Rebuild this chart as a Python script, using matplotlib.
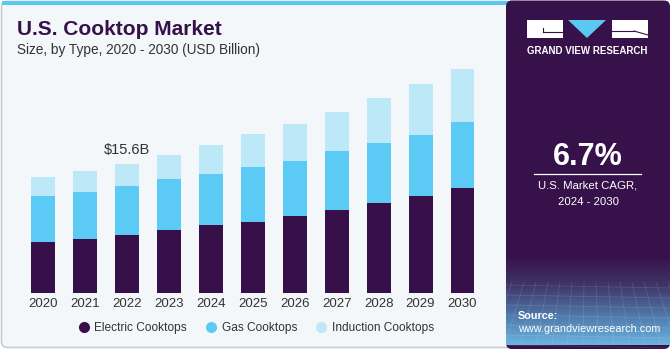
import numpy as np
import matplotlib
matplotlib.use("Agg")
import matplotlib.pyplot as plt
from matplotlib.patches import FancyBboxPatch, Rectangle, Polygon
from matplotlib.lines import Line2D
from matplotlib.colors import LinearSegmentedColormap

plt.rcParams['font.family'] = ['Liberation Sans', 'DejaVu Sans']

years = ['2020', '2021', '2022', '2023', '2024', '2025', '2026', '2027', '2028', '2029', '2030']
electric = [6.22, 6.54, 7.06, 7.62, 8.18, 8.62, 9.26, 9.99, 10.83, 11.75, 12.71]
gas = [5.53, 5.69, 5.85, 6.10, 6.22, 6.58, 6.70, 7.18, 7.30, 7.34, 7.90]
induction = [2.29, 2.45, 2.69, 2.93, 3.49, 3.93, 4.37, 4.65, 5.37, 6.10, 6.42]
series_names = ['Electric Cooktops', 'Gas Cooktops', 'Induction Cooktops']
colors = ['#37104a', '#5bcbf5', '#bde8f8']
label_year = '2022'
label_text = '$15.6B'

W, H = 671, 350
fig = plt.figure(figsize=(W / 100, H / 100), dpi=100)
fig.patch.set_facecolor('white')

# background layer in pixel coords
bg = fig.add_axes([0, 0, 1, 1], zorder=0)
bg.set_xlim(0, W)
bg.set_ylim(H, 0)
bg.axis('off')

# left panel
bg.add_patch(FancyBboxPatch((1.5, 1.5), 520, H - 4, boxstyle='round,pad=0,rounding_size=6',
                            fc='#f3f7fa', ec='#c9cdd0', lw=1.2))
bg.add_patch(Rectangle((1.5, 0.5), 518, 4.5, fc='#5bc8f2', ec='none'))

# right panel
bg.add_patch(FancyBboxPatch((506, 0.5), 164, H - 1.5, boxstyle='round,pad=0,rounding_size=6',
                            fc='#37114a', ec='none'))
grad = np.linspace(0, 1, 100)[:, None]
cmap = LinearSegmentedColormap.from_list('g', ['#37114a', '#3f3567', '#4f77a8', '#6bb3de'])
bg.imshow(grad, extent=(506, 670, 345, 255), cmap=cmap, aspect='auto', zorder=1)
for yy in np.linspace(285, 345, 7):
    bg.plot([506, 670], [yy, yy + 3], color='white', alpha=0.12, lw=0.6, zorder=2)
for xx in np.linspace(500, 680, 16):
    bg.plot([xx, xx + (xx - 588) * 0.3], [282, 345], color='white', alpha=0.12, lw=0.6, zorder=2)

# logo
bg.add_patch(Rectangle((527, 20), 36, 18, fc='white', ec='none', zorder=3))
bg.plot([543, 563], [32, 32], color='#37114a', lw=0.8, zorder=4)
bg.plot([543, 543], [28, 32], color='#37114a', lw=0.8, zorder=4)
bg.add_patch(Polygon([(568, 20), (606, 20), (587, 38)], closed=True, fc='#5bc8f2', ec='none', zorder=3))
bg.add_patch(Rectangle((612, 20), 36, 18, fc='white', ec='none', zorder=3))
bg.plot([634, 648], [31, 35], color='#37114a', lw=0.8, zorder=4)
bg.plot([612, 634], [31, 31], color='#37114a', lw=0.8, zorder=4)
bg.text(587.5, 51, 'GRAND VIEW RESEARCH', color='white', fontsize=7, fontweight='bold',
        ha='center', va='center', zorder=4)

bg.text(588, 157, '6.7%', color='white', fontsize=22, fontweight='bold', ha='center', va='center', zorder=4)
bg.plot([534, 641], [173.5, 173.5], color='white', lw=0.9, zorder=4)
bg.text(588, 186, 'U.S. Market CAGR,', color='white', fontsize=8.2, ha='center', va='center', zorder=4)
bg.text(588, 202, '2024 - 2030', color='white', fontsize=8.2, ha='center', va='center', zorder=4)
bg.text(518, 316, 'Source:', color='white', fontsize=7.8, fontweight='bold', ha='left', va='center', zorder=4)
bg.text(518, 329.5, 'www.grandviewresearch.com', color='white', fontsize=7.8, ha='left', va='center', zorder=4)

# titles
bg.text(17, 35, 'U.S. Cooktop Market', color='#37114a', fontsize=15, fontweight='bold',
        ha='left', va='baseline')
bg.text(17, 54, 'Size, by Type, 2020 - 2030 (USD Billion)', color='#333333', fontsize=9.8,
        ha='left', va='baseline')

# chart
ax = fig.add_axes([17.7 / W, 0.162, 470 / W, 0.665], zorder=2)
ax.patch.set_alpha(0)
x = np.arange(len(years))
bottom = np.zeros(len(years))
for vals, c in zip([electric, gas, induction], colors):
    ax.bar(x, vals, width=0.57, bottom=bottom, color=c, edgecolor='none')
    bottom = bottom + np.array(vals)
ax.set_xlim(-0.6, len(years) - 0.4)
ax.set_ylim(0, 28)
ax.set_xticks(x)
ax.set_xticklabels(years, fontsize=9.5, color='#333333')
ax.tick_params(axis='x', length=0, pad=3.5)
ax.set_yticks([])
for s in ax.spines.values():
    s.set_visible(False)

i = years.index(label_year)
ax.annotate(label_text, (x[i], bottom[i]), xytext=(0, 5), textcoords='offset points',
            ha='center', va='bottom', fontsize=10.5, color='#333333')

handles = [Line2D([], [], marker='o', ls='none', markersize=8, markerfacecolor=c,
                  markeredgecolor='none') for c in colors]
fig.legend(handles, series_names, loc='center', bbox_to_anchor=(256 / W, 1 - 328 / H), ncol=3,
           frameon=False, fontsize=8.6, handletextpad=0.35, columnspacing=1.55,
           labelcolor='#333333', handlelength=1.0)

fig.savefig('out.png', dpi=100, facecolor='white')
